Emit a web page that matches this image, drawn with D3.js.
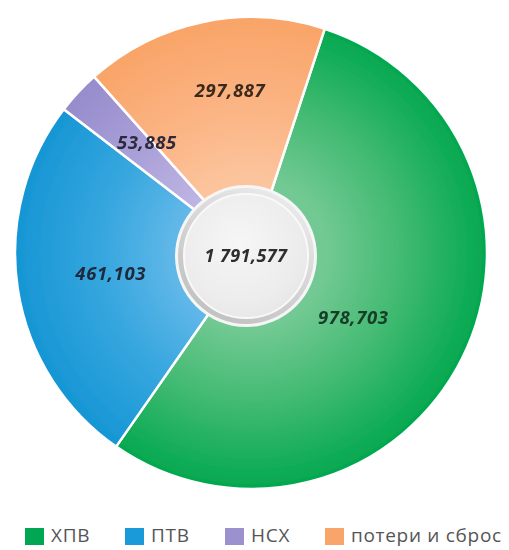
<!DOCTYPE html>
<html>
<head>
<meta charset="utf-8">
<script src="https://cdn.jsdelivr.net/npm/d3@7"></script>
<style>
  html, body { margin: 0; padding: 0; background: #ffffff; }
  svg { display: block; }
</style>
</head>
<body>
<svg id="chart" width="509" height="550"></svg>
<script>
// Water balance breakdown (values in the source units)
const categories = ["ХПВ", "ПТВ", "НСХ", "потери и сброс"];
const values = [978.703, 461.103, 53.885, 297.887];
const valueLabels = ["978,703", "461,103", "53,885", "297,887"];
const totalLabel = "1 791,577";

// Per-slice colours: [inner, middle, outer]
const sliceColors = [
  ["#72c993", "#45bb74", "#03a84f"],
  ["#62b8e8", "#38a7df", "#1696d4"],
  ["#bdb4e3", "#aba1d9", "#978ccc"],
  ["#fcc49d", "#fbb483", "#f9a468"]
];
const legendColors = ["#00a651", "#1a9ad9", "#9b91cf", "#f9a46a"];
const labelColors = ["#163d27", "#1d2a3a", "#2e2a3e", "#3a2a1e"];

// Layout
const cx = 251, cy = 253;
const outerR = 236, innerR = 60;
const startDeg = 18.2;
// label placement per slice: radius and angular nudge (degrees)
const labelPlace = [
  { r: 122, da: 6.5 },
  { r: 142, da: 0 },
  { r: 151, da: 3.5 },
  { r: 162, da: 4.3 }
];

const svg = d3.select("#chart");
const defs = svg.append("defs");

// radial shading, centred on the pie centre (local coordinates of the pie group)
sliceColors.forEach((c, i) => {
  const g = defs.append("radialGradient")
    .attr("id", "slice-grad-" + i)
    .attr("gradientUnits", "userSpaceOnUse")
    .attr("cx", 0).attr("cy", 0).attr("r", outerR);
  g.append("stop").attr("offset", "0%").attr("stop-color", c[0]);
  g.append("stop").attr("offset", "32%").attr("stop-color", c[0]);
  g.append("stop").attr("offset", "62%").attr("stop-color", c[1]);
  g.append("stop").attr("offset", "100%").attr("stop-color", c[2]);
});

// centre disc gradients
const ringGrad = defs.append("linearGradient")
  .attr("id", "ring-grad").attr("x1", "0.8").attr("y1", "0").attr("x2", "0.2").attr("y2", "1");
ringGrad.append("stop").attr("offset", "0%").attr("stop-color", "#ececec");
ringGrad.append("stop").attr("offset", "50%").attr("stop-color", "#d4d4d4");
ringGrad.append("stop").attr("offset", "100%").attr("stop-color", "#bfbfbf");

const discGrad = defs.append("radialGradient")
  .attr("id", "disc-grad").attr("cx", "0.45").attr("cy", "0.4").attr("r", "0.7");
discGrad.append("stop").attr("offset", "0%").attr("stop-color", "#f6f6f6");
discGrad.append("stop").attr("offset", "70%").attr("stop-color", "#ececec");
discGrad.append("stop").attr("offset", "100%").attr("stop-color", "#e4e4e4");

const soft = defs.append("filter").attr("id", "soft")
  .attr("filterUnits", "userSpaceOnUse")
  .attr("x", -300).attr("y", -300).attr("width", 600).attr("height", 600);
soft.append("feGaussianBlur").attr("stdDeviation", 0.45);

const softText = defs.append("filter").attr("id", "soft-text")
  .attr("x", "-10%").attr("y", "-30%").attr("width", "120%").attr("height", "160%");
softText.append("feGaussianBlur").attr("stdDeviation", 0.4);

const pie = d3.pie()
  .sort(null)
  .value(d => d)
  .startAngle(startDeg * Math.PI / 180)
  .endAngle((startDeg + 360) * Math.PI / 180);

const arcs = pie(values);
const arc = d3.arc().innerRadius(innerR).outerRadius(outerR);

const chart = svg.append("g").attr("transform", `translate(${cx},${cy})`);

chart.selectAll("path.slice")
  .data(arcs)
  .join("path")
  .attr("class", "slice")
  .attr("d", arc)
  .attr("fill", (d, i) => `url(#slice-grad-${i})`)
  .attr("stroke", "#ffffff")
  .attr("stroke-width", 2.5)
  .attr("stroke-linejoin", "round")
  .attr("filter", "url(#soft)");

// centre disc
const centre = svg.append("g").attr("transform", `translate(${cx - 5},${cy + 3})`);
centre.append("circle").attr("r", 71).attr("fill", "#f6f6f6").attr("filter", "url(#soft)");
centre.append("circle").attr("r", 68).attr("fill", "url(#ring-grad)").attr("filter", "url(#soft)");
centre.append("circle").attr("r", 62).attr("fill", "url(#disc-grad)")
  .attr("stroke", "#f9f9f9").attr("stroke-width", 2).attr("filter", "url(#soft)");

centre.append("text")
  .attr("x", 0).attr("y", 1)
  .attr("text-anchor", "middle")
  .attr("dominant-baseline", "middle")
  .attr("font-family", "'Open Sans', sans-serif")
  .attr("font-style", "italic")
  .attr("font-weight", 700)
  .attr("font-size", 18)
  .attr("letter-spacing", 0.4)
  .attr("fill", "#2f2f2f")
  .attr("filter", "url(#soft-text)")
  .text(totalLabel);

// value labels
svg.append("g").selectAll("text")
  .data(arcs)
  .join("text")
  .attr("transform", (d, i) => {
    const a = (d.startAngle + d.endAngle) / 2 + labelPlace[i].da * Math.PI / 180;
    const r = labelPlace[i].r;
    return `translate(${cx + r * Math.sin(a)},${cy - r * Math.cos(a)})`;
  })
  .attr("text-anchor", "middle")
  .attr("dominant-baseline", "middle")
  .attr("font-family", "'Open Sans', sans-serif")
  .attr("font-style", "italic")
  .attr("font-weight", 700)
  .attr("font-size", 18.5)
  .attr("letter-spacing", 0.6)
  .attr("fill", (d, i) => labelColors[i])
  .attr("filter", "url(#soft-text)")
  .text((d, i) => valueLabels[i]);

// legend
const legendX = d3.scalePoint().domain(categories).range([25, 325]);
const legend = svg.append("g").attr("transform", "translate(0,528)");
const item = legend.selectAll("g.item")
  .data(categories)
  .join("g")
  .attr("class", "item")
  .attr("transform", d => `translate(${legendX(d)},0)`);
item.append("rect")
  .attr("width", 19).attr("height", 17)
  .attr("fill", (d, i) => legendColors[i]);
item.append("text")
  .attr("x", 26).attr("y", 9)
  .attr("dominant-baseline", "middle")
  .attr("font-family", "'Open Sans', sans-serif")
  .attr("font-size", 19)
  .attr("letter-spacing", 0.7)
  .attr("fill", "#555555")
  .text(d => d);
</script>
</body>
</html>
